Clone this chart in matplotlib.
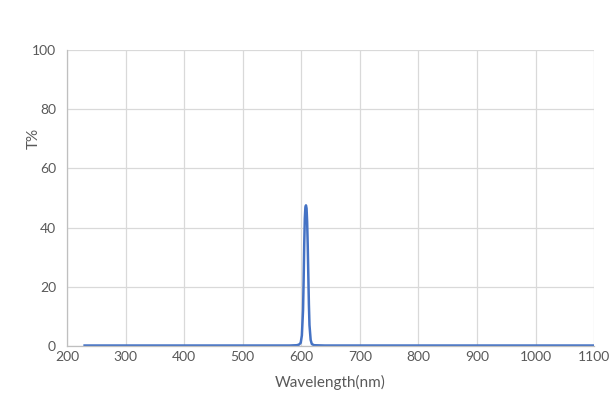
import matplotlib
matplotlib.use("Agg")
import matplotlib.pyplot as plt

plt.rcParams['font.family'] = ['Lato', 'DejaVu Sans']

# transmission curve
wavelength = [230, 400, 580, 592, 596, 599, 601, 603, 604, 605, 606, 607, 608, 609,
              610, 611, 612, 613, 614, 616, 618, 622, 640, 800, 1000, 1100]
transmission = [0.1, 0.1, 0.1, 0.2, 0.4, 1.0, 3.5, 12, 22, 34, 43, 46.8, 47.5, 46.5,
                42, 34, 24, 14, 7, 2, 0.6, 0.2, 0.1, 0.1, 0.1, 0.1]

xticks = list(range(200, 1101, 100))
yticks = list(range(0, 101, 20))

fig = plt.figure(figsize=(6.15, 4.04), dpi=100)
ax = fig.add_axes([0.109, 0.144, 0.857, 0.732])

ax.plot(wavelength, transmission, color='#4472C4', linewidth=1.8)

ax.set_xlim(200, 1100)
ax.set_ylim(0, 100)
ax.set_xticks(xticks)
ax.set_yticks(yticks)
ax.grid(True, color='#D9D9D9', linewidth=0.9)
ax.set_axisbelow(True)

for s in ['top', 'right']:
    ax.spines[s].set_visible(False)
for s in ['left', 'bottom']:
    ax.spines[s].set_color('#BFBFBF')
    ax.spines[s].set_linewidth(0.9)

ax.tick_params(length=0, labelsize=10, colors='#595959')
ax.tick_params(axis='y', pad=8)
ax.tick_params(axis='x', pad=4)
ax.set_xlabel("Wavelength(nm)", fontsize=11, color='#595959', labelpad=8)
ax.set_ylabel("T%", fontsize=11, color='#595959')
# the T% title sits above the middle in the original
ax.yaxis.set_label_coords(-0.05, 0.70)

fig.savefig("out.png", dpi=100)
